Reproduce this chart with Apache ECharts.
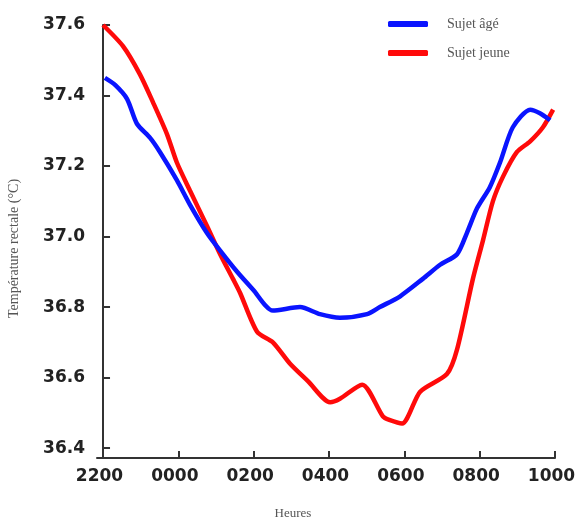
<!DOCTYPE html>
<html>
<head>
<meta charset="utf-8">
<script src="https://cdn.jsdelivr.net/npm/echarts@6/dist/echarts.min.js"></script>
<style>html,body{margin:0;padding:0;background:#fff}#c{width:576px;height:518px}</style>
</head>
<body>
<div id="c"></div>
<script>
// Hours elapsed since 22:00
const hoursAge = [0.05,0.32,0.64,0.90,1.25,1.51,1.96,2.31,2.76,3.11,3.56,3.98,4.51,5.23,5.76,6.29,7.01,7.35,7.88,8.49,8.95,9.40,9.66,9.93,10.27,10.54,10.88,11.34,11.60,11.87];
const tempAge  = [37.45,37.43,37.39,37.32,37.28,37.24,37.16,37.09,37.01,36.96,36.90,36.85,36.79,36.80,36.78,36.77,36.78,36.80,36.83,36.88,36.92,36.95,37.01,37.08,37.14,37.21,37.31,37.36,37.35,37.33];
const hoursYoung = [0.0,0.53,0.98,1.33,1.70,1.96,2.31,2.76,3.11,3.45,3.64,4.09,4.51,4.96,5.44,6.03,6.29,6.88,7.43,7.60,7.94,8.42,9.13,9.40,9.82,10.09,10.35,10.62,10.99,11.34,11.68,11.95];
const tempYoung  = [37.60,37.54,37.46,37.38,37.29,37.21,37.13,37.03,36.95,36.88,36.84,36.73,36.70,36.64,36.59,36.53,36.54,36.58,36.49,36.48,36.47,36.56,36.61,36.68,36.88,36.99,37.10,37.17,37.24,37.27,37.31,37.36];
const xTicks = [0,2,4,6,8,10,12];
const xTickLabels = ['2200','0000','0200','0400','0600','0800','1000'];
const yTicks = [36.4,36.6,36.8,37.0,37.2,37.4,37.6];
const seriesNames = ['Sujet âgé','Sujet jeune'];

const zip = (a,b) => a.map((v,i)=>[v,b[i]]);
const chart = echarts.init(document.getElementById('c'));
const axisCol = '#333';
chart.setOption({
  animation:false,
  backgroundColor:'#fff',
  grid:{left:97,right:21,top:25,bottom:60,outerBoundsMode:'none',containLabel:false},
  legend:{
    orient:'vertical', left:388, top:17, padding:0, itemWidth:40, itemHeight:6, itemGap:15,
    icon:'roundRect',
    textStyle:{fontFamily:'Liberation Serif',fontSize:14,color:'#555',padding:[0,0,0,14]},
    data:seriesNames
  },
  xAxis:{
    type:'value', min:-0.16, max:12,
    name:'Heures', nameLocation:'middle', nameGap:49,
    nameTextStyle:{fontFamily:'Liberation Serif',fontSize:13,color:'#555',padding:[0,66,0,0]},
    axisLine:{lineStyle:{color:axisCol,width:2}},
    axisTick:{inside:true,length:7,lineStyle:{color:axisCol,width:2},customValues:xTicks},
    axisLabel:{customValues:xTicks,margin:10,fontFamily:'DejaVu Sans',fontWeight:'bold',fontSize:17,color:'#222',
      padding:[0,7,0,0],
      formatter:v=>xTickLabels[xTicks.indexOf(Math.round(v))]},
    splitLine:{show:false}
  },
  yAxis:{
    type:'value', min:36.372, max:37.6,
    name:'Température rectale (°C)', nameLocation:'middle', nameGap:76,
    nameTextStyle:{fontFamily:'Liberation Serif',fontSize:14,color:'#555',padding:[0,14,0,0]},
    axisLine:{show:true,lineStyle:{color:axisCol,width:2}},
    axisTick:{show:true,inside:true,length:7,lineStyle:{color:axisCol,width:2},customValues:yTicks},
    axisLabel:{customValues:yTicks,margin:12,fontFamily:'DejaVu Sans',fontWeight:'bold',fontSize:17,color:'#222',
      formatter:v=>v.toFixed(1)},
    splitLine:{show:false}
  },
  series:[
    {name:seriesNames[0],type:'line',data:zip(hoursAge,tempAge),showSymbol:false,smooth:0.25,
     lineStyle:{color:'#0a14ff',width:4.5},itemStyle:{color:'#0a14ff'},z:3},
    {name:seriesNames[1],type:'line',data:zip(hoursYoung,tempYoung),showSymbol:false,smooth:0.25,
     lineStyle:{color:'#ff0a0a',width:4.5},itemStyle:{color:'#ff0a0a'},z:2}
  ]
});
</script>
</body>
</html>
